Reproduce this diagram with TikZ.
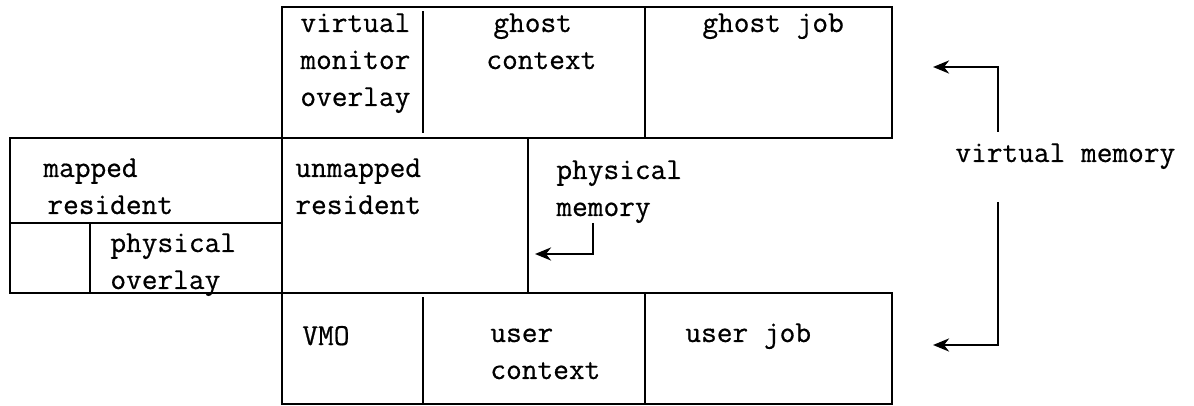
\documentclass[tikz,border=0pt]{standalone}
\usepackage{fontspec}
\setmonofont{Latin Modern Mono}[FakeBold=0.6]
\usetikzlibrary{arrows.meta}
\begin{document}
\begin{tikzpicture}[x=0.5pt,y=-0.5pt,
  wall/.style={line width=1.25pt, line cap=rect},
  lbl/.style={font=\fontsize{15.25}{18.5}\selectfont\ttfamily, align=left, anchor=base west, inner sep=0pt},
  arr/.style={line width=1.3pt, -{Stealth[length=8pt,width=6.5pt,inset=2.5pt]}}]
\useasboundingbox (0,0) rectangle (1194,406);
% memory map outline
\draw[wall] (892,138) -- (892,7) -- (282,7) -- (282,404) -- (892,404) -- (892,293);
\draw[wall] (10,138) -- (892,138);
\draw[wall] (10,293) -- (892,293);
\draw[wall] (10,138) -- (10,293);
\draw[wall] (10,223) -- (282,223);
\draw[wall] (90,223) -- (90,293);
\draw[wall] (528,138) -- (528,293);
\draw[wall] (423,12) -- (423,132);
\draw[wall] (645,7) -- (645,138);
\draw[wall] (423,298) -- (423,404);
\draw[wall] (645,293) -- (645,404);
% labels (anchor = baseline of the last line)
\node[lbl] (vmo) at (300,106) {virtual\\monitor\\overlay};
\node[lbl] (gctx) at (486,69) {\hspace{3.5pt}ghost\\context};
\node[lbl] (gjob) at (702,32) {ghost job};
\node[lbl] (mres) at (43,214) {mapped\\\hspace{2pt}resident};
\node[lbl] (ures) at (295,214) {unmapped\\resident};
\node[lbl] (pmem) at (556,216) {physical\\memory};
\node[lbl] (povl) at (110,289) {physical\\overlay};
\node[lbl] (vmos) at (302,345) {VMO};
\node[lbl] (uctx) at (490,379) {user\\context};
\node[lbl] (ujob) at (685,342) {user job};
\node[lbl] (vm) at (955,162) {virtual memory};
% arrows
\coordinate (vmtop) at (998,132);
\coordinate (vmbot) at (998,202);
\coordinate (gjin) at (933,67);
\coordinate (ujin) at (933,345);
\coordinate (pmfrom) at (593,223);
\coordinate (urin) at (535,254);
\draw[arr] (vmtop) |- (gjin);
\draw[arr] (vmbot) |- (ujin);
\draw[arr] (pmfrom) |- (urin);
\end{tikzpicture}
\end{document}
